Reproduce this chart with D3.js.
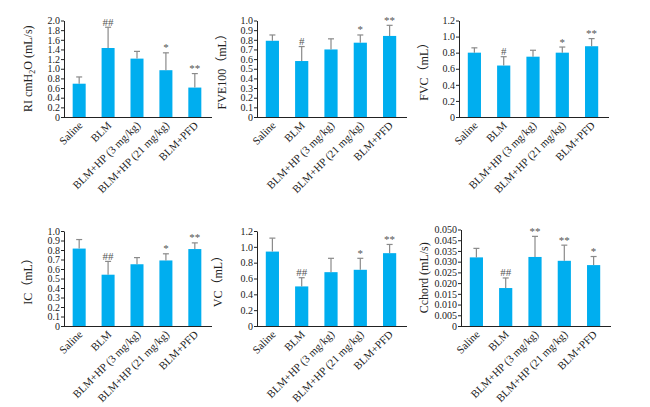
<!DOCTYPE html>
<html>
<head>
<meta charset="utf-8">
<script src="https://cdn.jsdelivr.net/npm/d3@7"></script>
<style>
  body { margin: 0; background: #fff; }
  text { font-family: "Liberation Serif", "Noto Sans CJK SC", serif; }
</style>
</head>
<body>
<svg id="chart" width="650" height="407"></svg>
<script>
const groups = ["Saline", "BLM", "BLM+HP (3 mg/kg)", "BLM+HP (21 mg/kg)", "BLM+PFD"];

// means and upper error values (mean + SD)
const riMean = [0.69, 1.43, 1.21, 0.97, 0.61];
const riTop = [0.83, 1.86, 1.36, 1.33, 0.90];
const fveMean = [0.79, 0.58, 0.70, 0.77, 0.84];
const fveTop = [0.85, 0.73, 0.81, 0.85, 0.95];
const fvcMean = [0.80, 0.64, 0.75, 0.80, 0.88];
const fvcTop = [0.86, 0.75, 0.83, 0.87, 0.975];
const icMean = [0.815, 0.54, 0.65, 0.69, 0.81];
const icTop = [0.91, 0.68, 0.72, 0.76, 0.875];
const vcMean = [0.94, 0.50, 0.68, 0.71, 0.92];
const vcTop = [1.11, 0.61, 0.855, 0.855, 1.03];
const cchMean = [0.032, 0.0177, 0.0322, 0.0304, 0.0284];
const cchTop = [0.0362, 0.0224, 0.0418, 0.0377, 0.0324];

const riMarks = ["", "##", "", "*", "**"];
const fveMarks = ["", "#", "", "*", "**"];
const fvcMarks = ["", "#", "", "*", "**"];
const icMarks = ["", "##", "", "*", "**"];
const vcMarks = ["", "##", "", "*", "**"];
const cchMarks = ["", "##", "**", "**", "*"];

// tick labels as printed (the Cchord axis skips 0.040 in the original)
const ticks20 = ["0", "0.2", "0.4", "0.6", "0.8", "1.0", "1.2", "1.4", "1.6", "1.8", "2.0"];
const ticks10 = ["0", "0.1", "0.2", "0.3", "0.4", "0.5", "0.6", "0.7", "0.8", "0.9", "1.0"];
const ticks12 = ["0", "0.2", "0.4", "0.6", "0.8", "1.0", "1.2"];
const ticksCch = ["0", "0.005", "0.010", "0.015", "0.020", "0.025", "0.030", "0.035", "0.045", "0.050"];

const panels = [
  { mean: riMean, top: riTop, marks: riMarks, max: 2.0, labels: ticks20, step: 0.2, title: "RI", x0: 64, x1: 210, y0: 20.5, y1: 117, tx: 32 },
  { mean: fveMean, top: fveTop, marks: fveMarks, max: 1.0, labels: ticks10, step: 0.1, title: "FVE100（mL）", x0: 257, x1: 405, y0: 20.5, y1: 117, tx: 226 },
  { mean: fvcMean, top: fvcTop, marks: fvcMarks, max: 1.2, labels: ticks12, step: 0.2, title: "FVC（mL）", x0: 459, x1: 607, y0: 20.5, y1: 117, tx: 428 },
  { mean: icMean, top: icTop, marks: icMarks, max: 1.0, labels: ticks10, step: 0.1, title: "IC（mL）", x0: 64, x1: 210, y0: 231, y1: 326, tx: 32 },
  { mean: vcMean, top: vcTop, marks: vcMarks, max: 1.2, labels: ticks12, step: 0.2, title: "VC（mL）", x0: 257, x1: 405, y0: 231, y1: 326, tx: 222 },
  { mean: cchMean, top: cchTop, marks: cchMarks, max: 0.045, labels: ticksCch, step: 0.005, title: "Cchord (mL/s)", x0: 461, x1: 609, y0: 229.5, y1: 326, tx: 428 }
];

const svg = d3.select("#chart");
const barColor = "#00aeef";
const errColor = "#8a8a8a";

panels.forEach(p => {
  const g = svg.append("g");

  const x = d3.scaleBand()
      .domain(groups)
      .range([p.x0, p.x1])
      .paddingInner(0.55)
      .paddingOuter(0.3);

  const y = d3.scaleLinear()
      .domain([0, p.max])
      .range([p.y1, p.y0]);

  const tickVals = p.labels.map((d, i) => i * p.step);

  // bars
  g.selectAll(".bar")
    .data(groups)
    .join("rect")
      .attr("x", d => x(d))
      .attr("y", (d, i) => y(p.mean[i]))
      .attr("width", x.bandwidth())
      .attr("height", (d, i) => y(0) - y(p.mean[i]))
      .attr("fill", barColor);

  // error bars (upper only)
  const cx = d => x(d) + x.bandwidth() / 2;
  g.selectAll(".err")
    .data(groups)
    .join("line")
      .attr("x1", cx).attr("x2", cx)
      .attr("y1", (d, i) => y(p.mean[i]))
      .attr("y2", (d, i) => y(p.top[i]))
      .attr("stroke", errColor)
      .attr("stroke-width", 1.2);
  g.selectAll(".cap")
    .data(groups)
    .join("line")
      .attr("x1", d => cx(d) - 3).attr("x2", d => cx(d) + 3)
      .attr("y1", (d, i) => y(p.top[i]))
      .attr("y2", (d, i) => y(p.top[i]))
      .attr("stroke", errColor)
      .attr("stroke-width", 1.2);

  // significance marks
  g.selectAll(".mark")
    .data(groups)
    .join("text")
      .attr("x", cx)
      .attr("y", (d, i) => y(p.top[i]) - 1.5)
      .attr("text-anchor", "middle")
      .attr("font-size", 11)
      .attr("fill", "#555")
      .text((d, i) => p.marks[i]);

  // y axis
  const yAxis = g.append("g")
      .attr("transform", "translate(" + p.x0 + ",0)")
      .call(d3.axisLeft(y)
        .tickValues(tickVals)
        .tickFormat((d, i) => p.labels[i])
        .tickSize(3)
        .tickSizeOuter(0)
        .tickPadding(1));
  yAxis.selectAll("text").attr("font-size", 10).attr("fill", "#222")
      .style("font-family", "Liberation Serif");
  yAxis.selectAll("line, path").attr("stroke", "#222");

  // x axis
  const xAxis = g.append("g")
      .attr("transform", "translate(0," + p.y1 + ")")
      .call(d3.axisBottom(x).tickSize(0).tickSizeOuter(0).tickPadding(0));
  xAxis.select(".domain").attr("stroke", "#222").attr("d", "M" + p.x0 + ",0.5H" + (p.x1 + 2));
  xAxis.selectAll("text")
      .attr("font-size", 11)
      .attr("fill", "#222")
      .style("font-family", "Liberation Serif")
      .attr("text-anchor", "end")
      .attr("dy", null)
      .attr("transform", "translate(4,9) rotate(-45)");

  // y title
  const t = g.append("text")
      .attr("transform", "translate(" + p.tx + "," + ((p.y0 + p.y1) / 2) + ") rotate(-90)")
      .attr("text-anchor", "middle")
      .attr("font-size", 12)
      .attr("fill", "#222");
  if (p.title === "RI") {
    t.append("tspan").text("RI cmH");
    t.append("tspan").attr("font-size", 8).attr("dy", 3).text("2");
    t.append("tspan").attr("dy", -3).text("O (mL/s)");
  } else {
    t.text(p.title);
  }
});
</script>
</body>
</html>
